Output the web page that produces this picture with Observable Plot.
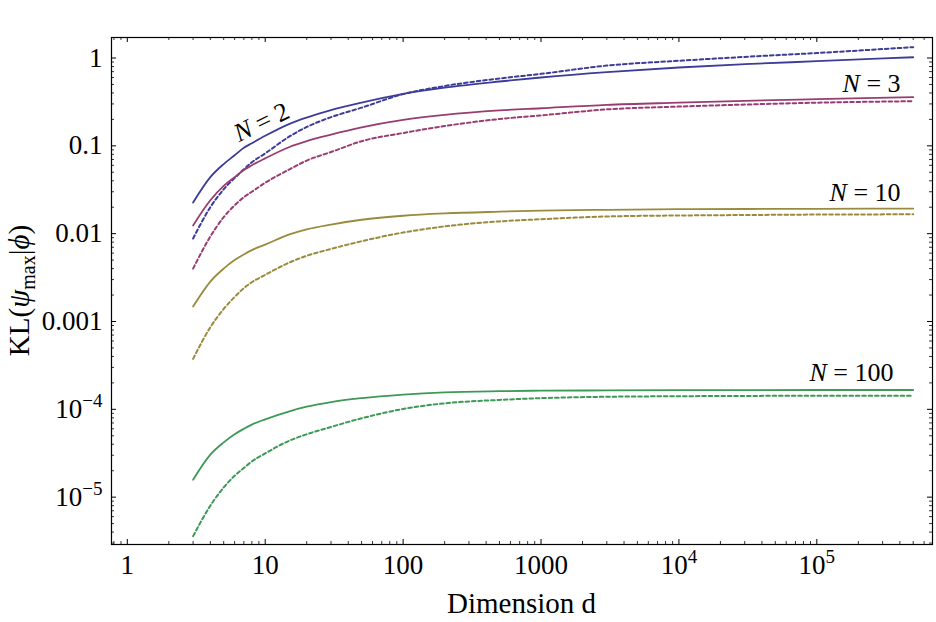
<!DOCTYPE html>
<html><head><meta charset="utf-8">
<script src="https://cdn.jsdelivr.net/npm/d3@7"></script>
<script src="https://cdn.jsdelivr.net/npm/@observablehq/plot@0.6"></script>
<style>
body{margin:0;background:#fff}
svg{font-family:"Liberation Serif","Times New Roman",serif;background:#fff}
</style>
</head><body><div id="chart"></div>
<script>
// Dimension values (x)
const dims = [3,4,5,6,7,8,10,15,20,30,50,100,200,500,1000,3000,1e4,3e4,1e5,5e5];

// KL values, solid (first) and dashed (second) per N
const n2Solid  = [0.0226,0.044,0.062,0.078,0.095,0.107,0.13,0.178,0.21,0.255,0.31,0.39,0.46,0.54,0.6,0.69,0.78,0.85,0.92,1.02];
const n2Dashed = [0.0088,0.020,0.032,0.043,0.054,0.065,0.082,0.128,0.164,0.212,0.272,0.388,0.48,0.585,0.66,0.82,0.93,1.03,1.14,1.33];
const n3Solid  = [0.0124,0.024,0.035,0.044,0.053,0.060,0.072,0.097,0.113,0.134,0.162,0.197,0.225,0.253,0.268,0.293,0.31,0.325,0.34,0.358];
const n3Dashed = [0.0040,0.0093,0.0154,0.021,0.026,0.030,0.038,0.054,0.068,0.085,0.113,0.14,0.168,0.202,0.222,0.26,0.28,0.295,0.31,0.322];
const n10Solid  = [0.00148,0.00285,0.0040,0.0050,0.0058,0.0065,0.0075,0.0098,0.0112,0.0127,0.0144,0.0160,0.0170,0.0178,0.0183,0.0187,0.0190,0.0191,0.0192,0.0193];
const n10Dashed = [0.000375,0.00086,0.00139,0.0019,0.0024,0.0028,0.0034,0.0047,0.0056,0.0067,0.0082,0.0103,0.0121,0.0138,0.0146,0.0157,0.0161,0.0163,0.0165,0.0166];
const n100Solid  = [1.58e-5,3.05e-5,4.2e-5,5.2e-5,6.0e-5,6.7e-5,7.7e-5,9.5e-5,1.07e-4,1.21e-4,1.34e-4,1.47e-4,1.56e-4,1.61e-4,1.63e-4,1.64e-4,1.65e-4,1.655e-4,1.66e-4,1.66e-4];
const n100Dashed = [3.6e-6,8.0e-6,1.29e-5,1.75e-5,2.15e-5,2.55e-5,3.15e-5,4.4e-5,5.2e-5,6.3e-5,7.9e-5,1.01e-4,1.17e-4,1.28e-4,1.34e-4,1.39e-4,1.41e-4,1.42e-4,1.43e-4,1.43e-4];

const seriesN = [2,3,10,100];
const seriesColors = ["#3D3D99","#993D71","#998B3D","#3D9956"];
const solidValues = [n2Solid,n3Solid,n10Solid,n100Solid];
const dashedValues = [n2Dashed,n3Dashed,n10Dashed,n100Dashed];

// Ticks
const xMajor = [1,10,100,1000,1e4,1e5];
const xTickLabels = ["1","10","100","1000","10^4","10^5"];
const yMajor = [1,0.1,0.01,0.001,1e-4,1e-5];
const yTickLabels = ["1","0.1","0.01","0.001","10^\u22124","10^\u22125"];

// Curve labels (data coordinates)
const labelTexts = ["N = 2","N = 3","N = 10","N = 100"];
const labelD = [9.4,4.05e5,4.05e5,3.6e5];
const labelKL = [0.186,0.504,0.0296,2.58e-4];

const xDomain = [0.768, 6.9e5];
const yDomain = [2.89e-6, 1.712];

const W = 936, H = 622, mL = 111, mR = 4, mT = 37, mB = 78;
const plotW = W - mL - mR, plotH = H - mT - mB;

function minorTicks(lo, hi) {
  const out = [];
  for (let e = -7; e <= 7; e++) for (let m = 2; m <= 9; m++) {
    const v = m * Math.pow(10, e);
    if (v > lo && v < hi) out.push(v);
  }
  return out;
}
const xMinor = minorTicks(xDomain[0], xDomain[1]);
const yMinor = minorTicks(yDomain[0], yDomain[1]);

const xFmt = new Map(xMajor.map((d,i)=>[d,xTickLabels[i]]));
const yFmt = new Map(yMajor.map((d,i)=>[d,yTickLabels[i]]));

const marks = [];
seriesN.forEach((n, k) => {
  marks.push(Plot.line(dims.map((d,i)=>({d, kl: solidValues[k][i]})),
    {x:"d", y:"kl", stroke: seriesColors[k], strokeWidth: 1.8, curve: "monotone-x"}));
  marks.push(Plot.line(dims.map((d,i)=>({d, kl: dashedValues[k][i]})),
    {x:"d", y:"kl", stroke: seriesColors[k], strokeWidth: 2, strokeDasharray: "3.6,2.8", curve: "monotone-x"}));
});

const labelRows = labelTexts.map((t,i)=>({t, d:labelD[i], kl:labelKL[i]}));

const MAJ = 5, MIN = 3;
marks.push(
  Plot.frame({stroke:"black", strokeWidth:1.2}),
  Plot.tickX(xMajor, {x:d=>d, insetTop: plotH-MAJ, stroke:"black"}),
  Plot.tickX(xMajor, {x:d=>d, insetBottom: plotH-MAJ, stroke:"black"}),
  Plot.tickX(xMinor, {x:d=>d, insetTop: plotH-MIN, stroke:"black", strokeWidth:0.8}),
  Plot.tickX(xMinor, {x:d=>d, insetBottom: plotH-MIN, stroke:"black", strokeWidth:0.8}),
  Plot.tickY(yMajor, {y:d=>d, insetRight: plotW-MAJ, stroke:"black"}),
  Plot.tickY(yMajor, {y:d=>d, insetLeft: plotW-MAJ, stroke:"black"}),
  Plot.tickY(yMinor, {y:d=>d, insetRight: plotW-MIN, stroke:"black", strokeWidth:0.8}),
  Plot.tickY(yMinor, {y:d=>d, insetLeft: plotW-MIN, stroke:"black", strokeWidth:0.8}),
  Plot.axisX(xMajor, {tickSize:0, tickPadding:10, fontSize:27, tickFormat:d=>xFmt.get(d), label:null, fill:"black"}),
  Plot.axisY(yMajor, {tickSize:0, tickPadding:9, fontSize:27, tickFormat:d=>yFmt.get(d), label:null, fill:"black"}),
  Plot.text(labelRows.slice(0,1), {x:"d", y:"kl", text:"t", fontSize:26, fill:"black", textAnchor:"middle", rotate:-26}),
  Plot.text(labelRows.slice(1), {x:"d", y:"kl", text:"t", fontSize:26, fill:"black", textAnchor:"end"})
);

const svg = Plot.plot({
  width: W, height: H,
  marginLeft: mL, marginRight: mR, marginTop: mT, marginBottom: mB,
  x: {type:"log", domain: xDomain},
  y: {type:"log", domain: yDomain},
  style: {fontFamily: '"Liberation Serif","Times New Roman",serif', background:"#fff", color:"black"},
  marks
});

// tick label font size
d3.select(svg).selectAll('g[aria-label="x-axis tick label"] text, g[aria-label="y-axis tick label"] text')
  .attr("font-size", 27).style("font-size", "27px");

// rich text: superscripts and italic N
d3.select(svg).selectAll("text").each(function() {
  const sel = d3.select(this);
  const t = this.textContent;
  const m = t.match(/^10\^(.+)$/);
  if (m) {
    sel.text(null);
    sel.append("tspan").text("10");
    sel.append("tspan").style("font-size", "19px").attr("dy", -11).text(m[1]);
  } else if (/^N = /.test(t)) {
    sel.text(null);
    sel.append("tspan").attr("font-style","italic").text("N");
    sel.append("tspan").text(t.slice(1));
  }
});

// axis titles
const ff = '"Liberation Serif","Times New Roman",serif';
d3.select(svg).append("text")
  .attr("x", (mL + W - mR)/2).attr("y", 613)
  .attr("text-anchor","middle").attr("font-size",29).attr("font-family",ff).attr("fill","black")
  .text("Dimension d");
const yl = d3.select(svg).append("text")
  .attr("transform", `translate(29,${(mT + H - mB)/2}) rotate(-90)`)
  .attr("text-anchor","middle").attr("font-size",29).attr("font-family",ff).attr("fill","black");
yl.append("tspan").text("KL(");
yl.append("tspan").attr("font-style","italic").text("\u03C8");
yl.append("tspan").attr("font-size",20).attr("dy",6).text("max");
yl.append("tspan").attr("dy",-6).text("|");
yl.append("tspan").attr("font-style","italic").text("\u03D5");
yl.append("tspan").text(")");

document.getElementById("chart").appendChild(svg);
</script>
</body></html>
